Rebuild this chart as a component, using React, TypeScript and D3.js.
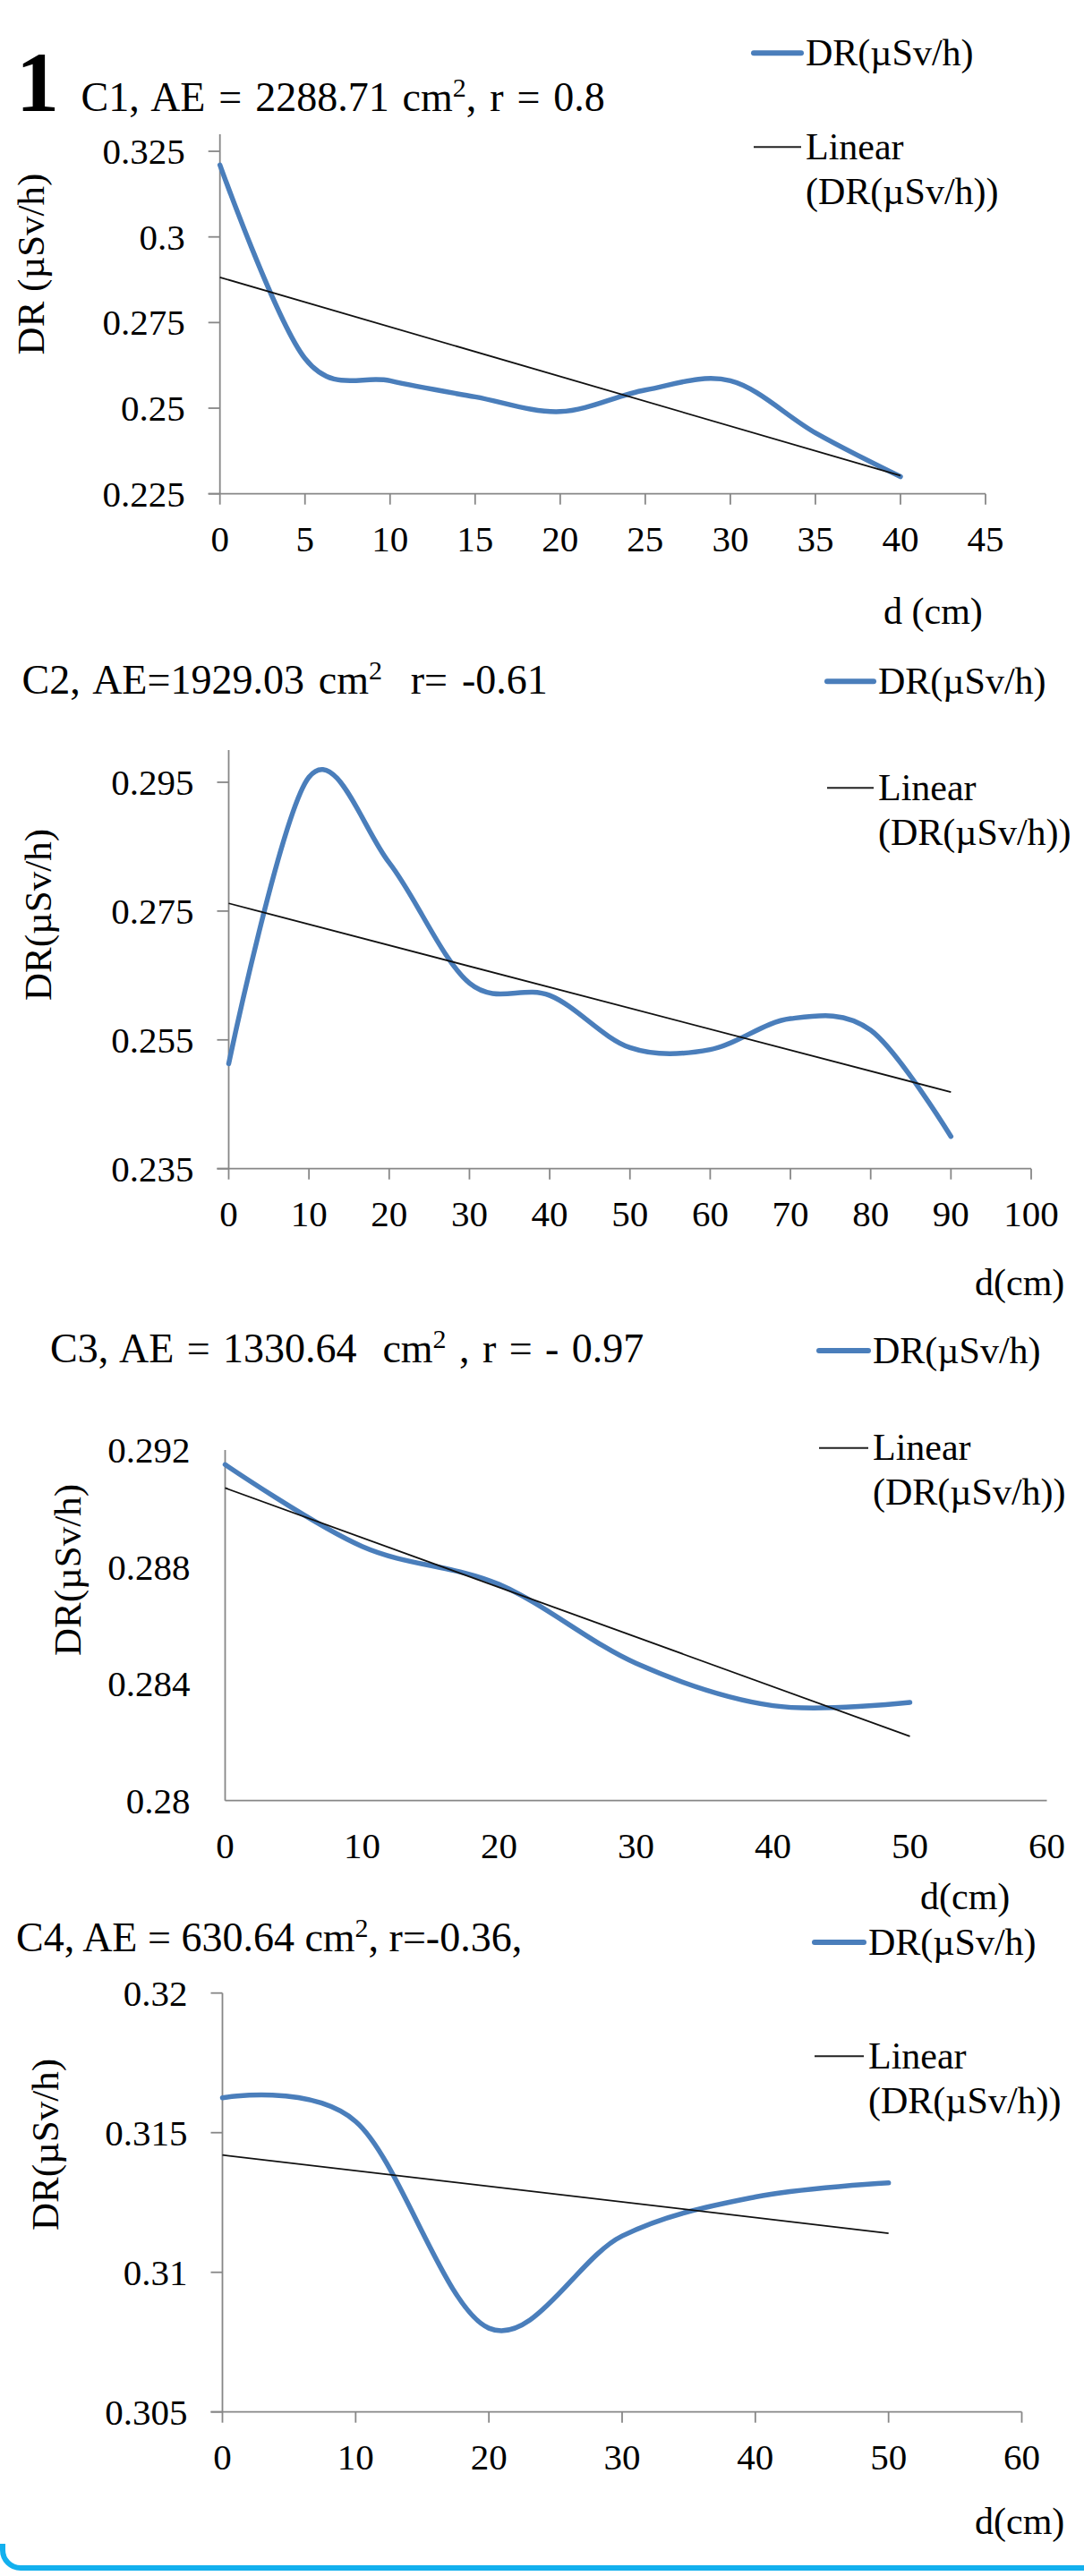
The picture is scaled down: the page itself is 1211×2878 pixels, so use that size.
import React from "react";
import * as d3 from "d3";

const FONT = "'Liberation Serif', 'Times New Roman', serif";
const BLUE = "#4a7ebb";
const AXIS = "#878787";

// C1 panel
const c1Depth = [0, 5, 10, 15, 20, 25, 30, 35, 40];
const c1Dose = [0.321, 0.2645, 0.258, 0.2533, 0.249, 0.2553, 0.258, 0.2428, 0.23];
const c1TrendDepth = [0, 40];
const c1Trend = [0.2882, 0.2303];
const c1XTicks = [0, 5, 10, 15, 20, 25, 30, 35, 40, 45];
const c1YTicks = [0.225, 0.25, 0.275, 0.3, 0.325];

// C2 panel
const c2Depth = [0, 10, 20, 30, 40, 50, 60, 70, 80, 90];
const c2Dose = [0.2513, 0.2958, 0.2825, 0.2638, 0.2619, 0.2538, 0.2535, 0.2583, 0.2565, 0.24];
const c2TrendDepth = [0, 90];
const c2Trend = [0.2762, 0.2469];
const c2XTicks = [0, 10, 20, 30, 40, 50, 60, 70, 80, 90, 100];
const c2YTicks = [0.235, 0.255, 0.275, 0.295];

// C3 panel
const c3Depth = [0, 10, 20, 30, 40, 50];
const c3Dose = [0.2915, 0.2887, 0.2874, 0.2847, 0.28325, 0.28336];
const c3TrendDepth = [0, 50];
const c3Trend = [0.2907, 0.2822];
const c3XTicks = [0, 10, 20, 30, 40, 50, 60];
const c3YTicks = [0.28, 0.284, 0.288, 0.292];

// C4 panel
const c4Depth = [0, 10, 20, 30, 40, 50];
const c4Dose = [0.31625, 0.3154, 0.308, 0.3113, 0.3127, 0.3132];
const c4TrendDepth = [0, 50];
const c4Trend = [0.3142, 0.3114];
const c4XTicks = [0, 10, 20, 30, 40, 50, 60];
const c4YTicks = [0.305, 0.31, 0.315, 0.32];

const seriesName = "DR(µSv/h)";
const fmt = d3.format(".3~f");

type PanelProps = {
  depth: number[];
  dose: number[];
  trendDepth: number[];
  trend: number[];
  xTicks: number[];
  yTicks: number[];
  xDomain: [number, number];
  yDomain: [number, number];
  xRange: [number, number];
  yRange: [number, number];
  tickMarks: boolean;
  title: { x: number; y: number; pre: string; post: string; ws: number };
  yLabel: { text: string; x: number; y: number };
  xLabel: { text: string; x: number; y: number };
  legend: { x0: number; x1: number; y1: number; y2: number };
};

const Panel = (p: PanelProps) => {
  const x = d3.scaleLinear().domain(p.xDomain).range(p.xRange);
  const y = d3.scaleLinear().domain(p.yDomain).range(p.yRange);
  const tl = p.tickMarks ? 13 : 0;

  const line = d3
    .line<number>()
    .x((_, i) => x(p.depth[i]))
    .y((d) => y(d))
    .curve(d3.curveCardinal.tension(0));

  const trendLine = d3
    .line<number>()
    .x((_, i) => x(p.trendDepth[i]))
    .y((d) => y(d));

  const y0 = y(p.yDomain[0]);
  const xLeft = p.xRange[0];
  const lg = p.legend;

  return (
    <g>
      {/* titre */}
      <text
        x={p.title.x}
        y={p.title.y}
        fontFamily={FONT}
        fontSize={46}
        wordSpacing={p.title.ws}
        style={{ whiteSpace: "pre" }}
      >
        <tspan>{p.title.pre}</tspan>
        <tspan fontSize={30} dy={-16}>2</tspan>
        <tspan dy={16}>{p.title.post}</tspan>
      </text>

      {/* axes */}
      <line x1={xLeft} x2={xLeft} y1={p.yRange[1]} y2={y0} stroke={AXIS} strokeWidth={1.8} />
      <line x1={xLeft - tl} x2={p.xRange[1]} y1={y0} y2={y0} stroke={AXIS} strokeWidth={1.8} />
      {p.tickMarks &&
        p.yTicks.map((t) => (
          <line key={"yt" + t} x1={xLeft - tl} x2={xLeft} y1={y(t)} y2={y(t)} stroke={AXIS} strokeWidth={1.8} />
        ))}
      {p.tickMarks &&
        p.xTicks.map((t) => (
          <line key={"xt" + t} x1={x(t)} x2={x(t)} y1={y0} y2={y0 + 12} stroke={AXIS} strokeWidth={1.8} />
        ))}
      {p.yTicks.map((t) => (
        <text
          key={"yl" + t}
          x={xLeft - 39}
          y={y(t)}
          dy="0.34em"
          fontFamily={FONT}
          fontSize={41}
          textAnchor="end"
        >
          {fmt(t)}
        </text>
      ))}
      {p.xTicks.map((t) => (
        <text
          key={"xl" + t}
          x={x(t)}
          y={y0 + 50}
          dy="0.34em"
          fontFamily={FONT}
          fontSize={41}
          textAnchor="middle"
        >
          {t}
        </text>
      ))}

      {/* series + tendance */}
      <path d={line(p.dose) || ""} fill="none" stroke={BLUE} strokeWidth={5.5} strokeLinecap="round" />
      <path d={trendLine(p.trend) || ""} fill="none" stroke="#111" strokeWidth={1.8} />

      {/* libelles d'axes */}
      <text
        transform={`translate(${p.yLabel.x},${p.yLabel.y}) rotate(-90)`}
        fontFamily={FONT}
        fontSize={43}
        textAnchor="middle"
        style={{ whiteSpace: "pre" }}
      >
        {p.yLabel.text}
      </text>
      <text x={p.xLabel.x} y={p.xLabel.y} fontFamily={FONT} fontSize={42} style={{ whiteSpace: "pre" }}>
        {p.xLabel.text}
      </text>

      {/* legende */}
      <line x1={lg.x0} x2={lg.x1} y1={lg.y1} y2={lg.y1} stroke={BLUE} strokeWidth={6} strokeLinecap="round" />
      <text x={lg.x1 + 5} y={lg.y1 + 13.5} fontFamily={FONT} fontSize={42}>{seriesName}</text>
      <line x1={lg.x0} x2={lg.x1} y1={lg.y2} y2={lg.y2} stroke="#222" strokeWidth={2} />
      <text x={lg.x1 + 5} y={lg.y2 + 13.5} fontFamily={FONT} fontSize={42}>Linear</text>
      <text x={lg.x1 + 5} y={lg.y2 + 63.5} fontFamily={FONT} fontSize={42}>{`(${seriesName})`}</text>
    </g>
  );
};

const App = () => {
  return (
    <div style={{ position: "absolute", left: 0, top: 0 }}>
      <svg width={1211} height={2878} style={{ display: "block", background: "#fff" }}>
        <text x={18} y={124} fontFamily={FONT} fontSize={96} fontWeight="bold">1</text>

        <Panel
          depth={c1Depth}
          dose={c1Dose}
          trendDepth={c1TrendDepth}
          trend={c1Trend}
          xTicks={c1XTicks}
          yTicks={c1YTicks}
          xDomain={[0, 45]}
          yDomain={[0.225, 0.33]}
          xRange={[245.7, 1101]}
          yRange={[551.7, 149.9]}
          tickMarks={true}
          title={{ x: 90.6, y: 124, pre: "C1, AE = 2288.71 cm", post: ", r = 0.8", ws: 3.4 }}
          yLabel={{ text: "DR (µSv/h)", x: 49, y: 295 }}
          xLabel={{ text: "d (cm)", x: 987, y: 697 }}
          legend={{ x0: 842, x1: 895, y1: 59.3, y2: 164.3 }}
        />

        <Panel
          depth={c2Depth}
          dose={c2Dose}
          trendDepth={c2TrendDepth}
          trend={c2Trend}
          xTicks={c2XTicks}
          yTicks={c2YTicks}
          xDomain={[0, 100]}
          yDomain={[0.235, 0.3]}
          xRange={[255.5, 1152]}
          yRange={[1305.7, 838]}
          tickMarks={true}
          title={{ x: 24.6, y: 775, pre: "C2, AE=1929.03 cm", post: "  r= -0.61", ws: 4.4 }}
          yLabel={{ text: "DR(µSv/h)", x: 57, y: 1022 }}
          xLabel={{ text: "d(cm)", x: 1089, y: 1446.7 }}
          legend={{ x0: 924, x1: 976, y1: 761.3, y2: 880.2 }}
        />

        <Panel
          depth={c3Depth}
          dose={c3Dose}
          trendDepth={c3TrendDepth}
          trend={c3Trend}
          xTicks={c3XTicks}
          yTicks={c3YTicks}
          xDomain={[0, 60]}
          yDomain={[0.28, 0.292]}
          xRange={[251.5, 1169.5]}
          yRange={[2011.7, 1620]}
          tickMarks={false}
          title={{ x: 56, y: 1521.7, pre: "C3, AE = 1330.64  cm", post: " , r = - 0.97", ws: 2.9 }}
          yLabel={{ text: "DR(µSv/h)", x: 90, y: 1754 }}
          xLabel={{ text: "d(cm)", x: 1028, y: 2132.7 }}
          legend={{ x0: 915, x1: 970, y1: 1509, y2: 1617.7 }}
        />

        <Panel
          depth={c4Depth}
          dose={c4Dose}
          trendDepth={c4TrendDepth}
          trend={c4Trend}
          xTicks={c4XTicks}
          yTicks={c4YTicks}
          xDomain={[0, 60]}
          yDomain={[0.305, 0.32]}
          xRange={[248.5, 1141.5]}
          yRange={[2694.7, 2226.7]}
          tickMarks={true}
          title={{ x: 18, y: 2180, pre: "C4, AE = 630.64 cm", post: ", r=-0.36,", ws: 0 }}
          yLabel={{ text: "DR(µSv/h)", x: 65, y: 2396 }}
          xLabel={{ text: "d(cm)", x: 1089, y: 2830.5 }}
          legend={{ x0: 910, x1: 965, y1: 2170, y2: 2297.3 }}
        />

        {/* cadre bleu en bas */}
        <path
          d="M3,2842 L3,2849 A20,20 0 0 0 23,2869 L1215,2869"
          fill="none"
          stroke="#13b0ee"
          strokeWidth={6}
        />
      </svg>
    </div>
  );
};

export default App;
